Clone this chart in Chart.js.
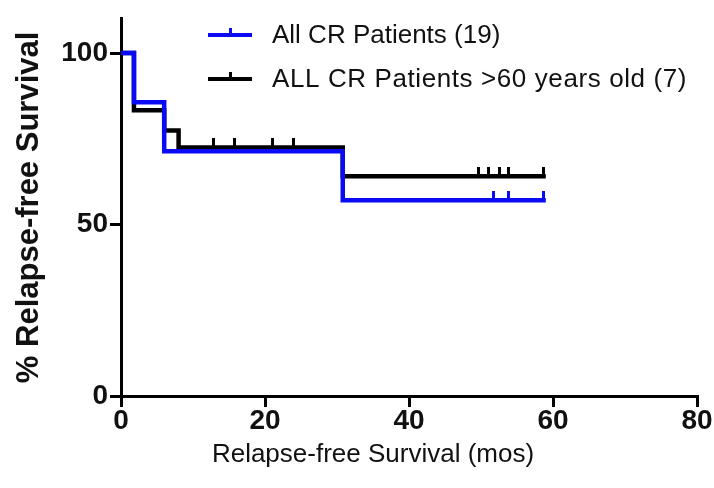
<!DOCTYPE html>
<html>
<head>
<meta charset="utf-8">
<script src="https://cdn.jsdelivr.net/npm/chart.js@4/dist/chart.umd.min.js"></script>
<style>
  html, body { margin: 0; padding: 0; background: #fff; }
  #wrap { width: 714px; height: 488px; }
</style>
</head>
<body>
<div id="wrap"><canvas id="c" width="714" height="488"></canvas></div>
<script>
// ---- data ----
const seriesLabels = ['All CR Patients (19)', 'ALL CR Patients >60 years old (7)'];
const timesAll = [0, 1.8, 6, 30.8, 59];
const survAll = [100, 85.7, 71.4, 57.1, 57.1];
const timesOld = [0, 1.8, 6, 8, 30.8, 59];
const survOld = [100, 83.3, 77.4, 72.5, 64.1, 64.1];
const censorAllTimes = [51.7, 53.8, 58.7];
const censorAllSurv = [57.1, 57.1, 57.1];
const censorOldTimes = [12.8, 15.8, 21, 23.9, 49.7, 51.1, 52.5, 53.8, 58.7];
const censorOldSurv = [72.5, 72.5, 72.5, 72.5, 64.1, 64.1, 64.1, 64.1, 64.1];
const xTickValues = [0, 20, 40, 60, 80];
const yTickValues = [0, 50, 100];
const xTitle = 'Relapse-free Survival (mos)';
const yTitle = '% Relapse-free Survival';

const BLUE = '#0a0af5';
const BLACK = '#000000';
const FONT = '"Liberation Sans", Arial, sans-serif';

function pts(xs, ys) { return xs.map((x, i) => ({ x: x, y: ys[i] })); }

function censorMark(color) {
  const cv = document.createElement('canvas');
  cv.width = 3; cv.height = 18;
  const g = cv.getContext('2d');
  g.fillStyle = color;
  g.fillRect(0, 0, 3, 9);
  return cv;
}

const textPlugin = {
  id: 'kmText',
  afterDraw(chart) {
    const ctx = chart.ctx;
    const rows = [
      { label: seriesLabels[0], color: BLUE, y: 35, spacing: '0px' },
      { label: seriesLabels[1], color: BLACK, y: 79, spacing: '0.6px' }
    ];
    ctx.save();
    rows.forEach(r => {
      ctx.strokeStyle = r.color;
      ctx.lineWidth = 4;
      ctx.beginPath();
      ctx.moveTo(208, r.y); ctx.lineTo(252, r.y);
      ctx.stroke();
      ctx.fillStyle = r.color;
      ctx.fillRect(229, r.y - 7, 3, 7);
      ctx.fillStyle = '#111';
      ctx.font = '26px ' + FONT;
      ctx.letterSpacing = r.spacing;
      ctx.textBaseline = 'middle';
      ctx.textAlign = 'left';
      ctx.fillText(r.label, 272, r.y + 1);
    });
    // x-axis title (offset to the left in the reference)
    ctx.letterSpacing = '0px';
    ctx.font = '26px ' + FONT;
    ctx.textAlign = 'center';
    ctx.textBaseline = 'middle';
    ctx.fillStyle = '#111';
    ctx.fillText(xTitle, 373, 455);
    ctx.restore();
  }
};

new Chart(document.getElementById('c'), {
  type: 'line',
  data: {
    datasets: [
      { label: 'censorAll', data: pts(censorAllTimes, censorAllSurv), showLine: false,
        pointStyle: censorMark(BLUE), pointRadius: 5, order: -2 },
      { label: 'censorOld', data: pts(censorOldTimes, censorOldSurv), showLine: false,
        pointStyle: censorMark(BLACK), pointRadius: 5, order: -1 },
      { label: seriesLabels[0], data: pts(timesAll, survAll), borderColor: BLUE, borderWidth: 4.5,
        stepped: 'before', pointRadius: 0, fill: false, borderJoinStyle: 'miter', borderCapStyle: 'butt', order: 0 },
      { label: seriesLabels[1], data: pts(timesOld, survOld), borderColor: BLACK, borderWidth: 4.5,
        stepped: 'before', pointRadius: 0, fill: false, borderJoinStyle: 'miter', borderCapStyle: 'butt', order: 1 }
    ]
  },
  options: {
    responsive: false,
    devicePixelRatio: 1,
    animation: false,
    layout: { padding: { top: 12, right: 17, left: 0, bottom: 0 } },
    plugins: { legend: { display: false }, tooltip: { enabled: false } },
    scales: {
      x: {
        type: 'linear', min: 0, max: 80,
        afterBuildTicks: s => { s.ticks = xTickValues.map(v => ({ value: v })); },
        afterFit: s => { s.height = 92; },
        grid: { drawOnChartArea: false, drawTicks: true, tickLength: 11, color: BLACK, lineWidth: 3 },
        border: { display: true, color: BLACK, width: 3 },
        ticks: { color: '#111', padding: -3, font: { family: FONT, size: 28, weight: 'bold' }, maxRotation: 0 },
        title: { display: false }
      },
      y: {
        type: 'linear', min: 0, max: 110,
        afterBuildTicks: s => { s.ticks = yTickValues.map(v => ({ value: v })); },
        afterFit: s => { s.width = 121; },
        grid: { drawOnChartArea: false, drawTicks: true, tickLength: 11, color: BLACK, lineWidth: 3 },
        border: { display: true, color: BLACK, width: 3 },
        ticks: { color: '#111', padding: 2, font: { family: FONT, size: 28, weight: 'bold' } },
        title: { display: true, text: yTitle, color: '#111', font: { family: FONT, size: 31, weight: 'bold' }, padding: { top: 11, bottom: 0 } }
      }
    }
  },
  plugins: [textPlugin]
});
</script>
</body>
</html>
